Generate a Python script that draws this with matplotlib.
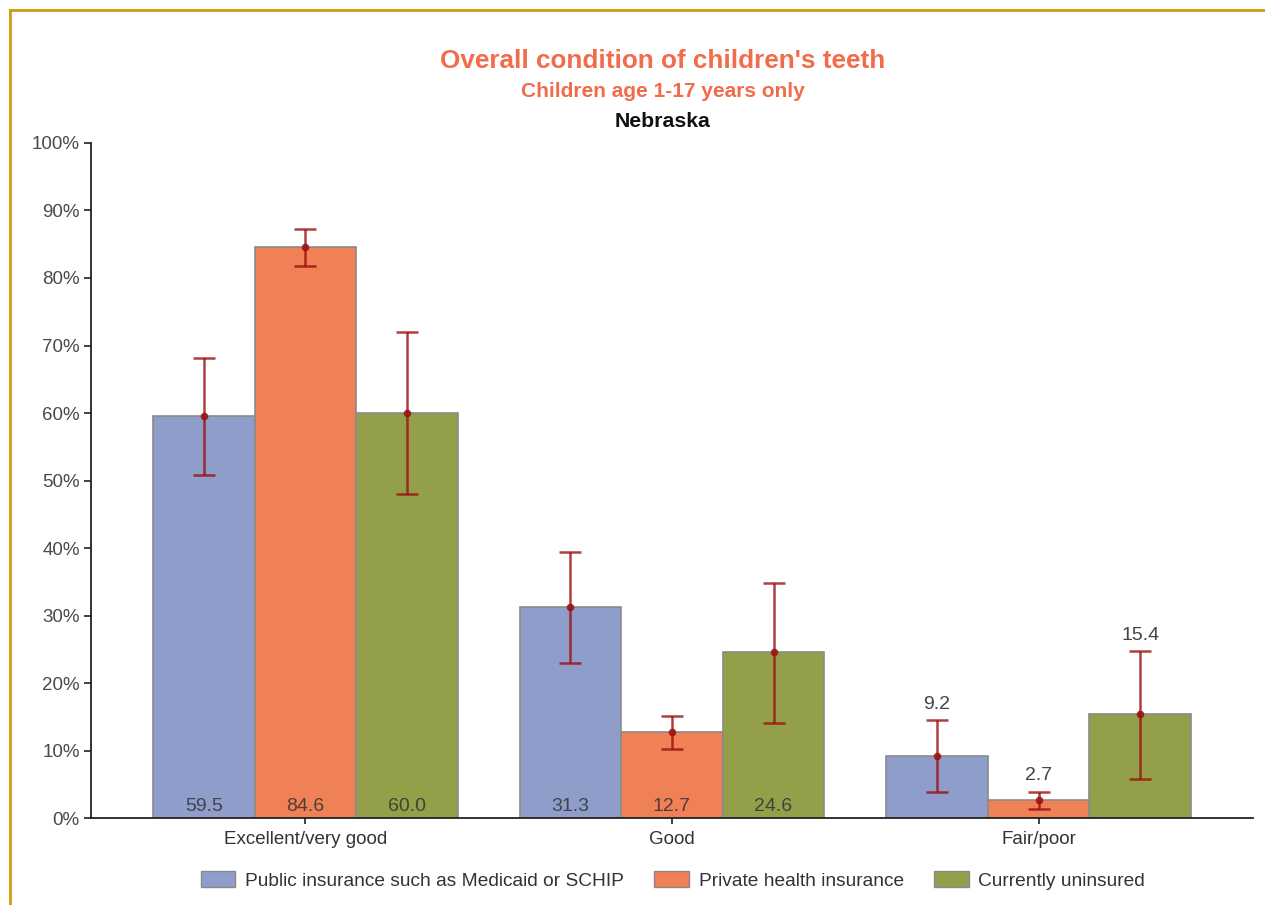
import numpy as np
import matplotlib
matplotlib.use("Agg")
import matplotlib.pyplot as plt
from matplotlib.patches import Patch
from matplotlib.lines import Line2D

plt.rcParams['font.family'] = ['Liberation Sans', 'DejaVu Sans']

categories = ['Excellent/very good', 'Good', 'Fair/poor']
series = ['Public insurance such as Medicaid or SCHIP', 'Private health insurance', 'Currently uninsured']
values = [
    [59.5, 31.3, 9.2],
    [84.6, 12.7, 2.7],
    [60.0, 24.6, 15.4],
]
ci_low = [
    [50.8, 23.0, 3.8],
    [81.8, 10.2, 1.4],
    [48.0, 14.1, 5.8],
]
ci_high = [
    [68.1, 39.4, 14.5],
    [87.3, 15.1, 3.9],
    [72.0, 34.8, 24.7],
]
label_above = [False, False, True]  # value labels above whiskers for this category
colors = ['#8f9dcb', '#f08055', '#949f4a']

fig = plt.figure(figsize=(12.65, 9.05), dpi=100)
ax = fig.add_axes([0.0719, 0.0961, 0.9186, 0.7459])

x = np.arange(len(categories))
w = 0.277
err_col = '#9b1010'
for i, name in enumerate(series):
    xs = x + (i - 1) * w
    vals = np.array(values[i])
    ax.bar(xs, vals, width=w, color=colors[i], edgecolor='#8a8a8a', linewidth=1.2, label=name, zorder=2)
    lo = vals - np.array(ci_low[i])
    hi = np.array(ci_high[i]) - vals
    ax.errorbar(xs, vals, yerr=[lo, hi], fmt='o', color=err_col, ms=4.5, elinewidth=1.8,
                capsize=8, capthick=1.8, alpha=0.8, zorder=3)
    for j, v in enumerate(vals):
        if label_above[j]:
            ax.text(xs[j], ci_high[i][j] + 1.1, f'{v:.1f}', ha='center', va='bottom',
                    fontsize=14, color='#444444', zorder=4)
        else:
            ax.text(xs[j], 0.5, f'{v:.1f}', ha='center', va='bottom',
                    fontsize=14, color='#333333', alpha=0.85, zorder=4)

ax.set_xlim(-0.585, 2.585)
ax.set_ylim(0, 100)
ax.set_yticks(np.arange(0, 101, 10))
ax.set_yticklabels([f'{t}%' for t in range(0, 101, 10)])
ax.set_xticks(x)
ax.set_xticklabels(categories)
ax.tick_params(axis='y', length=5, width=1.2, colors='#222222', labelcolor='#4a4a4a', labelsize=13.5, pad=3)
ax.tick_params(axis='x', length=4, width=1.2, colors='#222222', labelcolor='#333333', labelsize=13.5, pad=5)
for s in ['top', 'right']:
    ax.spines[s].set_visible(False)
for s in ['left', 'bottom']:
    ax.spines[s].set_linewidth(1.3)
    ax.spines[s].set_color('#222222')

fig.text(0.524, 0.933, "Overall condition of children's teeth", ha='center', va='center',
         fontsize=18.8, fontweight='bold', color='#f26b4a')
fig.text(0.524, 0.899, 'Children age 1-17 years only', ha='center', va='center',
         fontsize=15, fontweight='bold', color='#f26b4a')
fig.text(0.524, 0.866, 'Nebraska', ha='center', va='center',
         fontsize=15.3, fontweight='bold', color='#111111')

handles = [Patch(facecolor=c, edgecolor='#888888', label=s) for c, s in zip(colors, series)]
fig.legend(handles=handles, loc='center', bbox_to_anchor=(0.532, 0.027), ncol=3, frameon=False,
           fontsize=13.8, handlelength=1.8, handleheight=0.85, columnspacing=1.6, handletextpad=0.5,
           labelcolor='#333333')

# frame on top and left edges
fig.add_artist(Line2D([0.0083, 1.0], [0.989, 0.989], transform=fig.transFigure, color='#d49a12', lw=2))
fig.add_artist(Line2D([0.0083, 0.0083], [0.0, 0.989], transform=fig.transFigure, color='#d49a12', lw=2))

fig.savefig('out.png', dpi=100)
